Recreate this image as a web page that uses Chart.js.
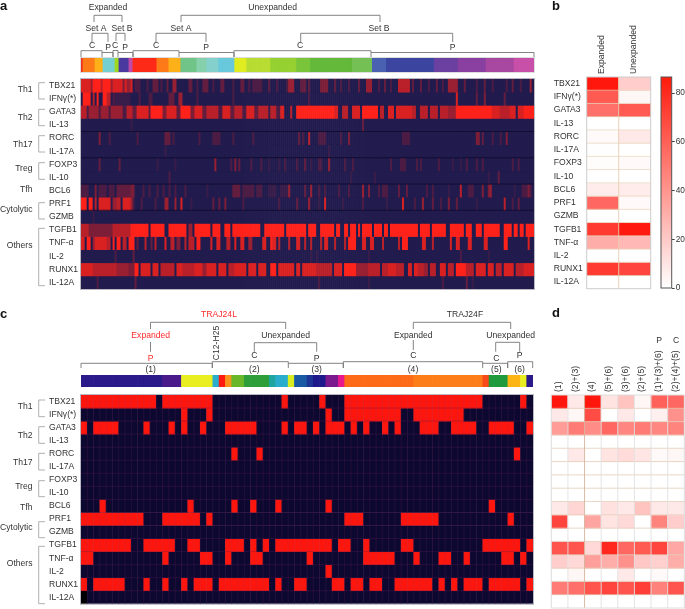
<!DOCTYPE html>
<html><head><meta charset="utf-8">
<style>html,body{margin:0;padding:0;background:#fff;width:685px;height:609px;overflow:hidden}
canvas{position:absolute;left:0;top:0}</style>
<script src="https://cdn.jsdelivr.net/npm/chart.js@4"></script>
</head><body>
<script>
const rowNames=['TBX21','IFNγ(*)','GATA3','IL-13','RORC','IL-17A','FOXP3','IL-10','BCL6','PRF1','GZMB','TGFB1','TNF-α','IL-2','RUNX1','IL-12A'];

/* Panel a: single-cell runs [firstColumn,lastColumn,level 0-9] */
const aTBX21=[[0,4,8],[5,5,6],[6,9,9],[10,10,7],[11,14,9],[15,15,6],[16,20,8],[21,21,5],[22,22,8],[23,24,6],[25,25,8],[27,29,3],[33,33,3],[36,38,4],[40,40,3],[43,43,4],[46,47,6],[54,55,4],[58,58,3],[61,63,4],[66,66,3],[70,71,4],[76,76,3],[80,81,4],[84,84,3],[86,90,3],[94,94,4],[98,98,3],[103,103,3],[104,106,6],[110,112,4],[114,114,4],[120,123,5],[127,127,4],[130,130,3],[134,134,3],[139,139,4],[143,145,6],[149,149,3],[152,152,4],[155,155,3],[159,164,7],[166,166,4],[170,170,4],[174,174,3],[178,178,4],[181,181,3],[184,188,6],[192,192,4],[198,198,3],[202,202,4],[206,206,3],[213,213,3],[216,216,4],[220,220,3],[225,225,6]];
const aIFN=[[1,3,9],[4,4,9],[6,6,7],[8,8,9],[11,12,9],[13,14,7],[16,16,3],[17,24,2],[29,29,3],[34,35,3],[44,46,4],[49,50,6],[58,58,3],[76,76,3],[114,114,3],[188,188,8],[198,198,4],[202,202,5],[212,212,4]];
const aGATA3=[[0,2,7],[3,3,3],[4,8,6],[9,9,3],[10,13,6],[14,14,3],[15,20,6],[21,22,3],[23,25,7],[26,27,4],[28,33,8],[34,34,4],[35,40,9],[41,42,5],[43,47,8],[48,49,4],[50,54,9],[55,56,5],[57,60,8],[61,62,4],[63,68,7],[69,70,3],[71,74,8],[75,76,4],[77,80,7],[81,82,3],[83,86,8],[87,88,4],[89,93,7],[94,94,2],[95,97,7],[98,99,3],[100,101,8],[105,105,7],[108,126,9],[127,128,8],[131,133,7],[136,139,8],[141,148,9],[150,151,7],[154,156,8],[158,165,8],[166,167,7],[170,173,7],[175,178,7],[180,183,7],[184,187,6],[188,197,9],[198,205,9],[206,209,8],[210,214,7],[215,217,8],[219,221,8],[222,226,9]];
const aIL13=[[25,25,2],[141,141,4]];
const aRORC=[[9,9,5],[14,14,3],[28,28,3],[42,44,4],[46,46,3],[59,59,3],[66,69,3],[76,76,3],[86,86,3],[109,109,4],[111,111,3],[114,114,7],[119,122,3],[130,130,3],[134,134,5],[161,164,3],[198,199,5],[201,201,4],[206,206,3],[210,210,3],[213,213,5]];
const aIL17A=[[42,42,2],[124,124,2]];
const aFOXP3=[[9,9,4],[19,19,4],[38,38,2],[47,47,2],[67,67,6],[75,75,3],[77,77,5],[79,79,4],[85,85,3],[90,90,3],[94,94,2],[99,99,2],[102,102,3],[108,108,3],[112,112,4],[115,115,2],[119,120,3],[124,124,6],[132,132,3],[136,136,3],[155,155,3],[160,162,3],[168,168,3],[170,170,3],[179,179,3],[186,186,2],[190,190,2],[193,193,3],[198,198,3],[201,201,3],[216,216,3],[219,219,3]];
const aIL10=[[44,44,3],[135,135,2],[147,147,2],[204,204,2],[209,209,4]];
const aBCL6=[[0,3,3],[7,7,5],[9,12,3],[14,16,3],[18,19,4],[20,24,4],[25,26,5],[31,31,3],[34,34,3],[38,38,3],[41,41,3],[44,44,3],[47,47,3],[52,52,3],[63,63,2],[76,79,4],[81,86,3],[88,90,3],[94,97,2],[100,103,2],[104,104,6],[112,112,4],[115,115,6],[119,119,3],[122,122,3],[129,129,3],[134,134,3],[141,141,6],[144,144,5],[149,149,3],[151,153,3],[159,159,4],[163,163,4],[173,173,3],[176,176,3],[184,184,2],[190,190,7],[194,196,3],[201,201,5],[204,204,5],[205,205,6],[217,217,2],[221,223,3],[224,224,5],[225,225,3]];
const aPRF1=[[0,2,9],[4,5,9],[7,7,7],[9,14,8],[16,17,6],[18,19,7],[21,24,8],[25,25,6],[26,26,3],[30,30,3],[37,37,3],[42,43,6],[47,47,6],[50,50,8],[55,55,2],[66,66,4],[69,69,4],[72,72,5],[81,81,3],[99,99,3],[108,108,4],[114,114,6],[119,119,2],[122,122,8],[131,131,2],[141,141,3],[153,153,2],[161,161,8],[167,167,3],[171,171,6],[176,176,4],[180,180,3],[184,184,5],[188,188,4],[198,198,2],[212,212,7],[216,216,3],[219,219,4]];
const aGZMB=[[6,6,2]];
const aTGFB1=[[0,3,7],[4,15,5],[16,24,7],[25,33,9],[35,41,9],[44,52,9],[54,55,6],[57,64,9],[66,69,9],[72,74,9],[76,87,9],[88,89,9],[92,101,9],[103,110,9],[111,112,9],[114,117,9],[120,126,9],[128,129,9],[132,133,9],[135,137,9],[139,139,9],[141,145,9],[147,150,9],[152,153,9],[155,157,9],[158,166,9],[167,168,9],[170,174,9],[176,182,9],[185,191,9],[193,195,9],[198,200,9],[202,206,9],[207,209,9],[212,215,9],[217,218,9],[220,221,9],[223,226,9]];
const aTNF=[[0,1,8],[3,4,9],[6,6,6],[7,9,8],[10,12,8],[13,14,7],[16,16,9],[18,19,9],[21,22,7],[24,26,9],[28,28,4],[32,32,7],[35,35,4],[37,37,7],[42,42,8],[45,46,7],[48,49,5],[52,52,7],[54,56,7],[58,59,9],[65,65,8],[68,69,8],[73,74,7],[77,77,8],[80,81,8],[84,85,6],[91,92,8],[96,97,8],[95,95,9],[99,99,7],[104,104,7],[108,109,8],[112,112,7],[115,115,7],[120,120,7],[122,123,8],[127,127,7],[132,132,7],[134,137,9],[141,142,8],[145,146,8],[151,151,7],[159,159,7],[161,163,9],[171,172,8],[176,176,7],[185,185,8],[188,189,8],[194,195,8],[202,203,8],[212,213,9],[224,224,8]];
const aIL2=[[17,17,3],[26,26,4],[115,115,2],[118,118,2],[144,144,2],[190,190,3],[204,204,2]];
const aRUNX1=[[0,5,8],[6,17,7],[18,23,6],[24,26,5],[27,28,9],[30,34,8],[36,38,8],[40,41,7],[42,46,7],[48,50,8],[51,56,7],[57,60,8],[61,62,6],[63,67,8],[69,72,8],[74,76,7],[77,82,8],[84,87,8],[89,92,8],[95,97,9],[99,101,8],[102,106,8],[108,109,8],[111,113,8],[114,117,8],[118,125,7],[127,130,8],[132,137,9],[138,143,6],[144,149,7],[151,153,7],[154,157,8],[158,161,7],[164,165,8],[167,168,8],[169,171,7],[172,173,6],[175,177,7],[180,182,8],[184,186,7],[188,192,9],[193,196,7],[198,202,8],[204,206,8],[208,210,7],[212,216,8],[218,221,7],[222,226,8]];
const aIL12A=[[8,8,3],[27,27,4],[119,119,3],[144,144,2],[181,181,3],[193,193,4],[196,196,2]];
const aRows=[aTBX21,aIFN,aGATA3,aIL13,aRORC,aIL17A,aFOXP3,aIL10,aBCL6,aPRF1,aGZMB,aTGFB1,aTNF,aIL2,aRUNX1,aIL12A];
const aColumnCount=227;
/* Panel a colour strip: [lastColumn, colour] */
const aStrip=[[0,'#f03020'],[6,'#fd7a18'],[10,'#fdb018'],[16,'#74cfd0'],[18,'#a0d820'],[23,'#4a3aa0'],[25,'#c04aa8'],[37,'#fe2a18'],[43,'#fd7a18'],[49,'#fdb018'],[57,'#70c488'],[62,'#86d0ac'],[68,'#84d0cc'],[76,'#68c8dc'],[82,'#e0ec20'],[94,'#b8dc30'],[107,'#94d02e'],[114,'#78c438'],[135,'#62b838'],[145,'#74c054'],[152,'#4a60b0'],[176,'#3c45a0'],[188,'#6a40a0'],[202,'#8a40a0'],[216,'#a848a0'],[226,'#c850a8']];

/* Panel b */
const bColumns=['Expanded','Unexpanded'];
const bExpanded=[85,60,52,0,2,0.5,1,0,7,55,0,72,30,0,72,0];
const bUnexpanded=[18,3,60,0,8,0,2,0,7,2,0,84,26,0,68,0];
const scaleMax=86.6;

/* Panel c: columns that are on, as [first,last] */
const cColumnCount=72;
const cTBX21=[[0,11],[13,20],[32,32],[38,38],[42,63],[70,70]];
const cIFN=[[16,16],[20,20],[39,39],[42,50],[53,60]];
const cGATA3=[[0,0],[2,5],[10,10],[14,14],[16,16],[19,19],[23,27],[32,32],[34,35],[37,37],[39,41],[43,43],[45,45],[48,48],[50,50],[54,56],[59,62],[65,68],[71,71]];
const cIL13=[];
const cRORC=[[24,24],[28,28],[69,69]];
const cIL17A=[];
const cFOXP3=[];
const cIL10=[];
const cBCL6=[[3,3],[17,17],[24,24],[27,27],[31,31],[39,39],[65,65]];
const cPRF1=[[0,9],[13,18],[20,20],[42,44],[51,56],[68,68]];
const cGZMB=[];
const cTGFB1=[[0,7],[10,14],[17,18],[23,25],[27,27],[29,29],[31,39],[41,42],[45,45],[51,52],[64,69],[71,71]];
const cTNF=[[0,1],[13,13],[19,20],[23,23],[27,28],[36,36],[45,49],[53,53],[57,58],[61,61],[67,68],[70,70]];
const cIL2=[[39,39]];
const cRUNX1=[[0,0],[2,6],[10,10],[13,13],[16,16],[18,20],[22,29],[31,31],[34,35],[40,41],[43,44],[46,47],[50,55],[57,57],[59,59],[61,63],[65,69],[71,71]];
const cIL12A=[];
const cMissing=[[15,0]]; /* row, column with no measurement (black) */
const cRows=[cTBX21,cIFN,cGATA3,cIL13,cRORC,cIL17A,cFOXP3,cIL10,cBCL6,cPRF1,cGZMB,cTGFB1,cTNF,cIL2,cRUNX1,cIL12A];
const cStrip=[[12,'#2a1a8a'],[15,'#4a1a8a'],[20,'#e8ee20'],[21,'#2aaccc'],[22,'#fe1a10'],[23,'#f7941d'],[25,'#6ab82a'],[29,'#2e9e3a'],[30,'#1fa5a0'],[32,'#2aaccc'],[33,'#d8ee20'],[35,'#1a5aa5'],[36,'#1e3595'],[38,'#1e1a8c'],[40,'#7a1a8e'],[41,'#e8188c'],[52,'#fd6a18'],[63,'#fd7e18'],[64,'#f94a1a'],[67,'#1f9a3c'],[69,'#fdb515'],[70,'#e8ee20'],[71,'#2a1a8a']];

/* Panel d */
const dColumns=['(1)','(2)+(3)','(4)','(5)+(6)','(3)+(6)','(2)+(5)','(1)+(3)+(6)','(2)+(4)+(5)'];
const dTBX21=[85,8,85,10,22,3,58,55];
const dIFN=[8,3,65,0,8,0,6,40];
const dGATA3=[36,48,42,55,44,48,44,45];
const dIL13=[0,0,0,0,0,0,0,0];
const dRORC=[0,8,0,10,13,9,2,3];
const dIL17A=[0,0,0,0,0,0,0,0];
const dFOXP3=[0,0,0,0,0,0,0,0];
const dIL10=[0,0,0,0,0,0,0,0];
const dBCL6=[8,15,0,11,8,22,8,8];
const dPRF1=[68,0,33,10,14,0,45,18];
const dGZMB=[0,0,0,0,0,0,0,0];
const dTGFB1=[62,62,14,78,55,60,68,32];
const dTNF=[18,14,35,30,40,20,17,30];
const dIL2=[0,3,0,0,8,0,2,0];
const dRUNX1=[48,52,62,68,62,70,46,62];
const dIL12A=[0,0,0,0,0,0,0,0];
const dRows=[dTBX21,dIFN,dGATA3,dIL13,dRORC,dIL17A,dFOXP3,dIL10,dBCL6,dPRF1,dGZMB,dTGFB1,dTNF,dIL2,dRUNX1,dIL12A];

/* ---------- drawing ---------- */
const W=685,H=609,FONT='"Liberation Sans"',FS=8.6,TXT='#333';
Chart.defaults.font.family=FONT;Chart.defaults.font.size=FS;Chart.defaults.color=TXT;
const lerp=(a,b,t)=>`rgb(${a.map((v,i)=>Math.round(v+(b[i]-v)*t)).join(',')})`;
const whiteRed=v=>lerp([255,255,255],[255,22,12],Math.min(1,v/85));
const aColor=l=>lerp([33,27,78],[254,34,26],Math.pow(l/9,1.5));

function addCanvas(){const c=document.createElement('canvas');c.width=W;c.height=H;c.style.width=W+'px';c.style.height=H+'px';document.body.appendChild(c);return c;}

function gridPlugin(fn){return {id:'g'+Math.random().toString(36).slice(2),afterDatasetsDraw(ch){const {ctx}=ch;ctx.save();fn(ctx,ch,ch.chartArea,ch.scales);ctx.restore();}};}
function hline(ctx,a,y,col,w){ctx.strokeStyle=col;ctx.lineWidth=w||1;ctx.beginPath();ctx.moveTo(a.left,y);ctx.lineTo(a.right,y);ctx.stroke();}
function vline(ctx,a,x,col,w){ctx.strokeStyle=col;ctx.lineWidth=w||1;ctx.beginPath();ctx.moveTo(x,a.top);ctx.lineTo(x,a.bottom);ctx.stroke();}

/* grid of colour cells: colours[row][col] */
function cellChart(o){
  const rows=o.colours.length,labels=o.labels;
  const datasets=o.colours.map((rowCols,r)=>({data:labels.map(()=>[r,r+1]),backgroundColor:rowCols,grouped:false,barPercentage:1,categoryPercentage:1,borderWidth:0}));
  const scales={
    x:{type:'category',labels,display:!!o.xAxisHeight,position:'top',grid:{display:false,drawTicks:false},border:{display:false},
       ticks:{autoSkip:false,minRotation:90,maxRotation:90,padding:o.xPad||0,labelOffset:o.xLabelOffset||0},
       afterFit(s){if(o.xAxisHeight)s.height=o.xAxisHeight;}},
    y:{type:'linear',min:0,max:rows,reverse:true,display:false}
  };
  if(o.yLabelWidth){scales.yLab={type:'category',axis:'y',labels:rowNames,position:'left',offset:true,grid:{display:false,drawTicks:false},border:{display:false},
      ticks:{autoSkip:false,crossAlign:'far',padding:0,font:{size:FS}},afterFit(s){s.width=o.yLabelWidth;}};}
  return new Chart(addCanvas(),{type:'bar',data:{labels,datasets},
    options:{responsive:false,animation:false,layout:{padding:o.padding},scales,plugins:{legend:{display:false},tooltip:{enabled:false}},events:[]},
    plugins:o.after?[gridPlugin(o.after)]:[]});
}
function stripColours(strip,n){const out=[];let i=0;for(let k=0;k<n;k++){while(strip[i][0]<k)i++;out.push(strip[i][1]);}return out;}
const seq=n=>Array.from({length:n},(_,i)=>String(i));

/* panel a heat */
const aColours=aRows.map(runs=>{const r=Array(aColumnCount).fill(aColor(0));runs.forEach(([s,e,l])=>{for(let k=s;k<=e;k++)r[k]=aColor(l);});return r;});
cellChart({labels:seq(aColumnCount),colours:aColours,yLabelWidth:32,
  padding:{left:49,right:W-534,top:79,bottom:H-289},
  after(ctx,ch,a,s){[4,6,8,10].forEach(v=>hline(ctx,a,s.y.getPixelForValue(v),'rgba(12,10,40,.75)'));
    ctx.strokeStyle='#b8b8c0';ctx.lineWidth=1;ctx.strokeRect(a.left-.5,a.top-.5,a.width+1,a.height+1);}});
cellChart({labels:seq(aColumnCount),colours:[stripColours(aStrip,aColumnCount)],
  padding:{left:81,right:W-534,top:58,bottom:H-72},
  after(ctx,ch,a){ctx.strokeStyle='#ddd';ctx.lineWidth=1;ctx.strokeRect(a.left-.5,a.top-.5,a.width+1,a.height+1);}});

/* panel b heat */
cellChart({labels:bColumns,colours:rowNames.map((_,r)=>[whiteRed(bExpanded[r]),whiteRed(bUnexpanded[r])]),yLabelWidth:33,xAxisHeight:77,xPad:3,xLabelOffset:9,
  padding:{left:553.7,right:W-650.7,top:0,bottom:H-288.7},
  after(ctx,ch,a,s){for(let v=1;v<16;v++)hline(ctx,a,s.y.getPixelForValue(v),'rgba(232,214,190,.75)');
    vline(ctx,a,(a.left+a.right)/2,'rgba(230,205,175,.9)');
    ctx.strokeStyle='#ccc';ctx.strokeRect(a.left,a.top,a.width,a.height);}});

/* colour scale */
new Chart(addCanvas(),{type:'bar',data:{labels:['scale'],datasets:[{data:[[0,scaleMax]],barPercentage:1,categoryPercentage:1,borderWidth:0,
   backgroundColor(c){const a=c.chart.chartArea;if(!a)return '#fff';const g=c.chart.ctx.createLinearGradient(0,a.bottom,0,a.top);g.addColorStop(0,'#fff');g.addColorStop(1,'#ff1a0c');return g;}}]},
  options:{responsive:false,animation:false,layout:{padding:{left:661,right:0,top:77,bottom:H-288}},events:[],plugins:{legend:{display:false},tooltip:{enabled:false}},
   scales:{x:{display:false},y:{position:'right',min:0,max:scaleMax,afterBuildTicks(s){s.ticks=s.ticks.filter(t=>t.value%20===0);},
     ticks:{stepSize:20,padding:1,font:{size:8.3}},grid:{drawOnChartArea:false,tickLength:3,color:'#444'},border:{display:false},afterFit(s){s.width=685-671.7;}}}},
  plugins:[gridPlugin((ctx,ch,a)=>{ctx.strokeStyle='#555';ctx.lineWidth=1;ctx.strokeRect(a.left,a.top,a.width,a.height);})]});

/* panel c heat */
const cColours=cRows.map(rs=>{const r=Array(cColumnCount).fill('rgb(13,8,48)');rs.forEach(([s,e])=>{for(let k=s;k<=e;k++)r[k]='rgb(252,22,14)';});return r;});
cMissing.forEach(([r,k])=>cColours[r][k]='#000');
cellChart({labels:seq(cColumnCount),colours:cColours,yLabelWidth:32,
  padding:{left:49,right:W-533,top:395,bottom:H-607.7},
  after(ctx,ch,a,s){for(let v=1;v<16;v++)hline(ctx,a,s.y.getPixelForValue(v),'rgba(90,30,80,.35)');
    for(let k=1;k<cColumnCount;k++){vline(ctx,a,a.left+k*a.width/cColumnCount,'rgba(150,60,110,.16)');}
    ctx.strokeStyle='#b8b8c0';ctx.lineWidth=1;ctx.strokeRect(a.left-.5,a.top-.5,a.width+1,a.height+1);}});
cellChart({labels:seq(cColumnCount),colours:[stripColours(cStrip,cColumnCount)],
  padding:{left:81,right:W-533,top:375,bottom:H-387}});

/* panel d heat */
cellChart({labels:dColumns,colours:dRows.map(r=>r.map(whiteRed)),xAxisHeight:395,xPad:3,xLabelOffset:9.5,
  padding:{left:551.3,right:W-684.3,top:0,bottom:H-608},
  after(ctx,ch,a,s){for(let v=1;v<16;v++)hline(ctx,a,s.y.getPixelForValue(v),'rgba(228,205,185,.8)');
    for(let k=1;k<8;k++)vline(ctx,a,a.left+k*a.width/8,k===2?'rgba(215,180,155,.9)':'rgba(225,225,225,.9)');
    ctx.strokeStyle='#ddd';ctx.strokeRect(a.left,a.top,a.width,a.height);}});

/* annotation layer: brackets, group labels and headings */
const DARK='#767676',LIGHT='#b0b0b0',RED='#ff2a2a';
const paths=[
 [[94,22],[94,15.3],[122,15.3],[122,22]],[[181,22],[181,15.3],[380,15.3],[380,22]],
 [[92,42],[92,33.3],[108,33.3],[108,42]],[[116,41],[116,33.3],[125,33.3],[125,41]],
 [[156,42],[156,33.3],[206,33.3],[206,42]],[[300.7,42],[300.7,33.3],[452.7,33.3],[452.7,42]],
 [[81,57],[81,50.7],[102,50.7],[102,57]],[[102,52.5],[113,52.5],[113,57]],[[113,57],[113,50.5],[118,50.5],[118,57]],[[118,52.5],[133,52.5],[133,57]],
 [[133,57],[133,50.7],[179,50.7],[179,57]],[[179,52.5],[234,52.5],[234,57]],[[234,57],[234,50.7],[371,50.7],[371,57]],[[371,52.5],[534,52.5],[534,57]],
 [[150.5,329],[150.5,322.3],[285.7,322.3],[285.7,329]],[[150.5,342],[150.5,351.7]],
 [[81,368],[81,363.3],[212.3,363.3],[212.3,368]],[[212.3,368],[212.3,361.7],[288.3,361.7],[288.3,368]],[[288.3,363.3],[343.3,363.3],[343.3,368]],
 [[343.3,368],[343.3,361.7],[482.7,361.7],[482.7,368]],[[482.7,363.3],[507.7,363.3],[507.7,368]],[[507.7,368],[507.7,361.7],[532.7,361.7],[532.7,368]],
 [[254.3,351.7],[254.3,342.7],[316.7,342.7],[316.7,351.7]],[[413.3,329],[413.3,322.3],[510.7,322.3],[510.7,329]],[[413.3,340],[413.3,350]],
 [[495.7,351.7],[495.7,342.3],[519.7,342.3],[519.7,351.7]]
];
const groups=[[82.7,99],[109.3,125.7],[135.7,152],[162.7,179.3],[202.7,219],[228.3,285.7],[400,416.7],[426.7,443.3],[453.3,470],[480.7,496.7],[521.7,537.7],[546.3,603.7]];
const centred=[['Expanded',108,8],['Unexpanded',272.7,8],['Set A',96,29],['Set B',122,29],['C',92,46],['P',108,48],['C',115,46],['P',125,48],['Set A',181,29],['C',156,46],['P',206,48],['Set B',379,29],['C',300,46],['P',452.5,48],
 ['TRAJ24L',219,315,RED],['Expanded',150.7,335.3,RED],['P',150.7,359,RED],['(1)',150.7,370],['(2)',254.3,370],['(3)',316.7,370],['(4)',413,370],['(5)',496.3,370],['(6)',519.7,370],
 ['Unexpanded',285.7,335.3],['C',254.3,355.7],['P',316.7,359],['TRAJ24F',465,315],['Expanded',413.3,335.3],['C',413.3,355.7],['Unexpanded',510.7,335.3],['C',496.3,359],['P',519.7,355.7],
 ['P',659,340.7],['C',676,340.7]];
const rightLabels=[['Th1',90],['Th2',118],['Th17',145],['Treg',169],['Tfh',190],['Cytolytic',210],['Others',246],['Th1',407],['Th2',435.7],['Th17',462.3],['Treg',486.7],['Tfh',507.7],['Cytolytic',528],['Others',563.7]];
const panels=[['a',0,6],['b',552,6],['c',0,314.7],['d',552,313]];
new Chart(addCanvas(),{type:'bar',data:{labels:[],datasets:[]},options:{responsive:false,animation:false,events:[],plugins:{legend:{display:false},tooltip:{enabled:false}},scales:{x:{display:false},y:{display:false}}},
 plugins:[{id:'annot',afterDraw(ch){const c=ch.ctx;c.save();c.textBaseline='middle';
  c.lineWidth=.9;c.strokeStyle=DARK;paths.forEach(p=>{c.beginPath();p.forEach(([x,y],i)=>i?c.lineTo(x,y):c.moveTo(x,y));c.stroke();});
  c.strokeStyle=LIGHT;c.lineWidth=1;groups.forEach(([a,b])=>{c.beginPath();c.moveTo(45,a);c.lineTo(38.7,a);c.lineTo(38.7,b);c.lineTo(45,b);c.stroke();});
  c.font=`${FS}px ${FONT}`;c.textAlign='center';
  centred.forEach(([t,x,y,col])=>{c.fillStyle=col||TXT;c.fillText(t,x,y);});
  c.fillStyle=TXT;c.textAlign='right';rightLabels.forEach(([t,y])=>c.fillText(t,32.5,y));
  c.save();c.translate(216.7,343);c.rotate(-Math.PI/2);c.textAlign='center';c.fillText('C12-H25',0,0);c.restore();
  c.font=`bold 13px ${FONT}`;c.textAlign='left';c.fillStyle='#111';panels.forEach(([t,x,y])=>c.fillText(t,x,y));
  c.restore();}}]});
</script>
</body></html>
